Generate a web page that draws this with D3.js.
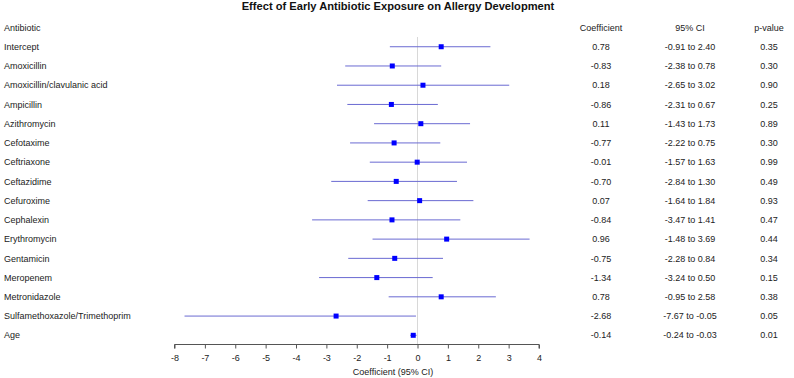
<!DOCTYPE html>
<html>
<head>
<meta charset="utf-8">
<script src="https://cdn.jsdelivr.net/npm/d3@7"></script>
<style>
  body { margin: 0; background: #fff; }
  text { font-family: "Liberation Sans", Arial, sans-serif; }
</style>
</head>
<body>
<div class="chart"></div>
<script>
let antibiotics = ["Intercept", "Amoxicillin", "Amoxicillin/clavulanic acid", "Ampicillin",
  "Azithromycin", "Cefotaxime", "Ceftriaxone", "Ceftazidime", "Cefuroxime", "Cephalexin",
  "Erythromycin", "Gentamicin", "Meropenem", "Metronidazole",
  "Sulfamethoxazole/Trimethoprim", "Age"];
let coefs = [0.78, -0.83, 0.18, -0.86, 0.11, -0.77, -0.01, -0.70, 0.07, -0.84, 0.96, -0.75, -1.34, 0.78, -2.68, -0.14];
let ciLow = [-0.91, -2.38, -2.65, -2.31, -1.43, -2.22, -1.57, -2.84, -1.64, -3.47, -1.48, -2.28, -3.24, -0.95, -7.67, -0.24];
let ciHigh = [2.40, 0.78, 3.02, 0.67, 1.73, 0.75, 1.63, 1.30, 1.84, 1.41, 3.69, 0.84, 0.50, 2.58, -0.05, -0.03];
let pValues = [0.35, 0.30, 0.90, 0.25, 0.89, 0.30, 0.99, 0.49, 0.93, 0.47, 0.44, 0.34, 0.15, 0.38, 0.05, 0.01];
let xTicks = [-8, -7, -6, -5, -4, -3, -2, -1, 0, 1, 2, 3, 4];

let svgWidth = 794;
let svgHeight = 378;
let fontSize = 9;
let textColor = "#222";

let svg = d3.select(".chart")
  .append("svg")
  .attr("width", svgWidth)
  .attr("height", svgHeight);

let rows = antibiotics.map((name, i) => ({
  name: name, coef: coefs[i], lo: ciLow[i], hi: ciHigh[i], p: pValues[i]
}));

let xScale = d3.scaleLinear()
  .domain([-8, 4])
  .range([174.5, 539]);

let yScale = d3.scalePoint()
  .domain(["header"].concat(antibiotics))
  .range([27.5, 335.3]);

// title
let title = svg.append("text")
  .attr("x", 398)
  .attr("y", 9.5)
  .attr("text-anchor", "middle")
  .attr("font-size", 12)
  .attr("font-weight", "bold")
  .attr("fill", "#111")
  .text("Effect of Early Antibiotic Exposure on Allergy Development");
// fit title to the reference width
let tw = title.node().getComputedTextLength();
title.attr("font-size", 12 * 313 / tw);

// header row
let headers = [["Antibiotic", 4, "start"], ["Coefficient", 601, "middle"],
  ["95% CI", 690, "middle"], ["p-value", 769, "middle"]];
svg.selectAll(".hdr")
  .data(headers)
  .enter()
  .append("text")
  .attr("x", d => d[1])
  .attr("y", yScale("header"))
  .attr("dy", "0.35em")
  .attr("text-anchor", d => d[2])
  .attr("font-size", fontSize)
  .attr("fill", textColor)
  .text(d => d[0]);

// zero reference line
svg.append("line")
  .attr("x1", xScale(0))
  .attr("x2", xScale(0))
  .attr("y1", 37)
  .attr("y2", 344.5)
  .attr("stroke", "#d8d8d8")
  .attr("stroke-width", 1);

let rowGroups = svg.selectAll(".row")
  .data(rows)
  .enter()
  .append("g")
  .attr("transform", d => `translate(0, ${yScale(d.name)})`);

rowGroups.append("text")
  .attr("x", 4)
  .attr("dy", "0.35em")
  .attr("font-size", fontSize)
  .attr("fill", textColor)
  .text(d => d.name);

rowGroups.append("line")
  .attr("x1", d => xScale(d.lo))
  .attr("x2", d => xScale(d.hi))
  .attr("stroke", "#6a6ad2")
  .attr("stroke-width", 1);

rowGroups.append("rect")
  .attr("x", d => xScale(d.coef) - 2.5)
  .attr("y", -2.5)
  .attr("width", 5)
  .attr("height", 5)
  .attr("fill", "#0000ff");

rowGroups.append("text")
  .attr("x", 601)
  .attr("dy", "0.35em")
  .attr("text-anchor", "middle")
  .attr("font-size", fontSize)
  .attr("fill", textColor)
  .text(d => d.coef.toFixed(2));

rowGroups.append("text")
  .attr("x", 690)
  .attr("dy", "0.35em")
  .attr("text-anchor", "middle")
  .attr("font-size", fontSize)
  .attr("fill", textColor)
  .text(d => `${d.lo.toFixed(2)} to ${d.hi.toFixed(2)}`);

rowGroups.append("text")
  .attr("x", 769)
  .attr("dy", "0.35em")
  .attr("text-anchor", "middle")
  .attr("font-size", fontSize)
  .attr("fill", textColor)
  .text(d => d.p.toFixed(2));

// x axis
let xAxis = svg.append("g")
  .attr("transform", "translate(0, 344.5)")
  .call(d3.axisBottom(xScale).tickValues(xTicks).tickSize(4).tickFormat(d => String(d)));

xAxis.selectAll("path, line").attr("stroke", "#555");
xAxis.select(".domain").attr("d", `M${xScale(-8)},4V0H${xScale(4)}V4`);
xAxis.selectAll("text")
  .attr("font-size", fontSize)
  .attr("fill", textColor)
  .attr("y", 10)
  .attr("font-family", "Liberation Sans, Arial, sans-serif");

svg.append("text")
  .attr("x", 393)
  .attr("y", 375)
  .attr("text-anchor", "middle")
  .attr("font-size", fontSize)
  .attr("fill", textColor)
  .text("Coefficient (95% CI)");
</script>
</body>
</html>
